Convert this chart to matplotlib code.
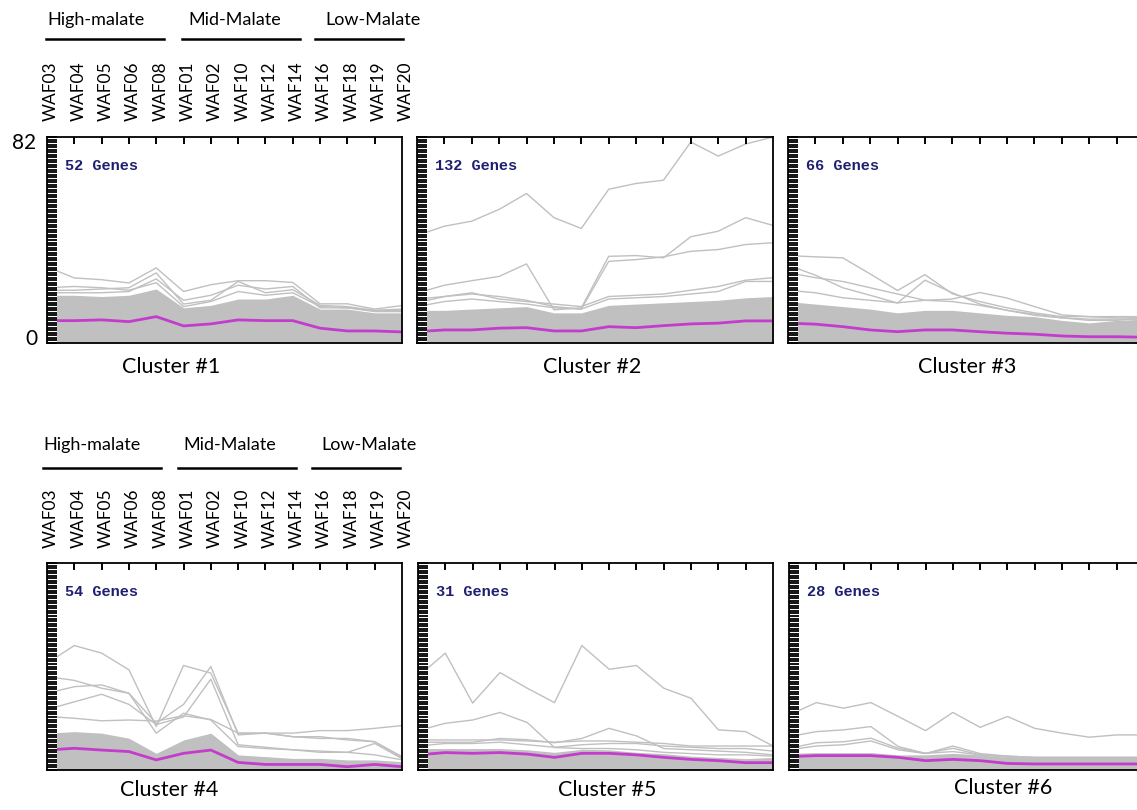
import numpy as np
import matplotlib
matplotlib.use("Agg")
import matplotlib.pyplot as plt
from matplotlib.patches import Rectangle
from matplotlib.lines import Line2D

plt.rcParams['font.family'] = ['Lato', 'DejaVu Sans']

# --- data -------------------------------------------------------------
samples = ["WAF03", "WAF04", "WAF05", "WAF06", "WAF08",
           "WAF01", "WAF02", "WAF10", "WAF12", "WAF14",
           "WAF16", "WAF18", "WAF19", "WAF20"]
groups = ["High-malate", "Mid-Malate", "Low-Malate"]
y_max = 82

gene_counts = [52, 132, 66, 54, 31, 28]
cluster_names = ["Cluster #1", "Cluster #2", "Cluster #3",
                 "Cluster #4", "Cluster #5", "Cluster #6"]

# cluster means (magenta)
mean1 = [8.9, 8.9, 9.2, 8.5, 10.5, 6.8, 7.6, 9.2, 8.9, 8.9, 5.9, 4.8, 4.8, 4.4]
mean2 = [4.5, 5.2, 5.2, 5.9, 6.1, 4.8, 4.8, 6.5, 6.1, 6.9, 7.6, 7.9, 8.8, 8.8]
mean3 = [7.9, 7.5, 6.5, 5.2, 4.5, 5.2, 5.2, 4.5, 3.9, 3.5, 2.8, 2.5, 2.5, 2.3]
mean4 = [7.9, 8.6, 7.9, 7.3, 4.0, 6.6, 7.9, 3.0, 2.2, 2.2, 2.2, 1.3, 2.2, 1.3]
mean5 = [6.0, 6.9, 6.6, 6.9, 6.3, 5.0, 6.6, 6.6, 6.0, 5.0, 4.2, 3.7, 2.9, 2.9]
mean6 = [5.3, 5.7, 5.7, 5.7, 5.0, 3.7, 4.2, 3.7, 2.6, 2.4, 2.4, 2.4, 2.4, 2.4]

# upper edge of the dense block of gene profiles
band1 = [19, 19, 18.5, 19, 21.5, 14, 15, 17.5, 17.5, 19, 13.5, 13.5, 12, 12]
band2 = [13, 13, 13.5, 14, 14.5, 12, 12, 15, 15.5, 16, 16.5, 17, 18, 18.5]
band3 = [16.5, 15.5, 14.5, 13.5, 12, 13, 13, 12, 11, 10.5, 9, 8, 9, 9.5]
band4 = [14.6, 15.2, 14.6, 12.6, 6.6, 11.9, 14.6, 6.0, 5.3, 4.6, 4.6, 4.0, 4.0, 3.3]
band5 = [8.5, 8.5, 8.5, 8.5, 8.0, 7.0, 8.2, 8.0, 7.0, 6.5, 5.5, 5.0, 4.5, 5.0]
band6 = [6.6, 6.9, 6.9, 6.9, 6.0, 6.0, 6.6, 6.0, 5.0, 5.0, 5.0, 5.0, 5.0, 5.0]

# individual gene profiles standing out above the block
c1_a = [30.3, 25.9, 25.2, 23.9, 29.9, 20.5, 23.2, 24.8, 24.8, 24.1, 15.6, 15.6, 13.5, 14.9]
c1_b = [21, 21, 21.5, 22, 27.9, 15.5, 17, 24.5, 20, 21.2, 15, 14.5, 13, 13.5]
c1_c = [20, 20, 20, 20.5, 25.5, 17, 19, 23, 21.5, 22.5, 14, 14, 12.5, 12.5]
c1_d = [22, 22.5, 22, 21, 24, 14.5, 16.5, 20.5, 19, 20, 14.5, 14, 13, 13]

c2_a = [42.8, 46.5, 48.5, 53.2, 59.5, 49.9, 45.6, 61.2, 63.5, 64.8, 80, 74.4, 79.2, 82]
c2_b = [19.9, 23.0, 24.8, 26.5, 31.5, 13.2, 14.0, 34.5, 34.8, 33.9, 42.3, 44.5, 49.9, 46.8]
c2_c = [17.5, 18.5, 19.5, 18.5, 17.0, 14.5, 13.5, 32.5, 33.2, 34.3, 36.5, 37.2, 39.2, 39.9]
c2_d = [16, 18.5, 20, 17.5, 16.5, 15.5, 14.5, 18.5, 19, 19.5, 21, 22.5, 25, 26]
c2_e = [14.5, 16.5, 17.5, 16.5, 15.5, 14, 13.5, 17.5, 18, 18.5, 19.5, 20.5, 24.5, 24.5]

c3_a = [34.8, 34.3, 33.9, 27.5, 20.9, 27.2, 19.6, 16.5, 14.0, 12.0, 10.5, 10.5, 10.0, 10.0]
c3_b = [31.0, 27.0, 22.0, 19.0, 15.9, 25.0, 20.0, 15.5, 13, 11, 10, 9.5, 9.5, 9.5]
c3_c = [28.0, 26.0, 24.5, 22.0, 19.5, 17.0, 17.5, 20.1, 17.9, 14.5, 11.2, 10.5, 10.5, 10.5]
c3_d = [21, 20, 18, 17, 16, 17, 16.5, 15, 13, 11.5, 10, 9, 9, 10]

c4_a = [42.3, 49.3, 46.3, 39.7, 17.2, 41.4, 38.4, 14.6, 14.6, 13.2, 13.2, 11.9, 11.2, 5.3]
c4_b = [37.0, 35.5, 32.4, 30.4, 18.5, 26.0, 41.0, 13.9, 14.6, 14.6, 15.6, 15.6, 16.5, 17.6]
c4_c = [30.4, 33.0, 33.7, 30.4, 14.6, 22.5, 19.8, 9.3, 8.5, 8.0, 7.5, 7.0, 10.5, 4.5]
c4_d = [21.2, 20.5, 19.5, 19.8, 19.4, 21.5, 20.0, 14.6, 14.6, 13.2, 12.5, 12.5, 11.2, 5.0]
c4_e = [24, 27, 30, 26, 18, 21, 36, 10, 9, 8, 7, 7, 6, 4]

c5_a = [37.0, 46.3, 26.5, 38.6, 32.4, 26.7, 49.3, 39.9, 41.4, 32.4, 28.4, 15.9, 15.2, 9.5]
c5_b = [15.6, 18.5, 19.8, 22.8, 18.8, 8.9, 8.5, 8.5, 8.0, 7.0, 6.5, 6.0, 6.0, 5.5]
c5_c = [11.0, 11.0, 11.0, 12.5, 12.0, 10.8, 12.5, 16.5, 13.5, 8.5, 8.0, 7.5, 7.0, 6.0]
c5_d = [11.9, 11.9, 11.9, 11.9, 11.5, 11.0, 11.5, 11.5, 11.0, 10.5, 9.5, 9.5, 9.5, 9.5]
c5_e = [9.5, 10.5, 10.5, 11, 10, 9, 10, 10.5, 10.5, 9.5, 9, 8.5, 8.5, 7.5]

c6_a = [21.8, 26.7, 24.5, 26.7, 21.2, 15.6, 22.8, 16.9, 21.2, 16.5, 14.6, 13.0, 13.9, 13.9]
c6_b = [13.2, 15.2, 15.9, 17.2, 9.3, 6.6, 7.3, 6.0, 5.5, 5.0, 5.0, 5.0, 5.0, 5.0]
c6_c = [8.6, 10.8, 11.2, 12.6, 8.6, 6.6, 8.6, 6.0, 5.0, 4.5, 4.5, 4.5, 4.5, 4.5]
c6_d = [8.0, 9.5, 10.0, 11.5, 8.0, 6.5, 9.5, 6.5, 5.5, 5.0, 5.0, 5.0, 5.0, 5.0]

means = [mean1, mean2, mean3, mean4, mean5, mean6]
bands = [band1, band2, band3, band4, band5, band6]
outliers = [[c1_a, c1_b, c1_c, c1_d],
            [c2_a, c2_b, c2_c, c2_d, c2_e],
            [c3_a, c3_b, c3_c, c3_d],
            [c4_a, c4_b, c4_c, c4_d, c4_e],
            [c5_a, c5_b, c5_c, c5_d, c5_e],
            [c6_a, c6_b, c6_c, c6_d]]

# --- layout (pixel boxes: left, top, right, bottom) -------------------
W, H = 1137, 810
boxes = [(47, 137, 402, 343), (417, 137, 773, 343), (788, 137, 1144, 343),
         (47, 563, 402, 770), (418, 563, 773, 770), (789, 563, 1144, 770)]
title_pos = [(171, 367), (592, 367), (967, 367),
             (169, 790), (607, 790), (1003, 788)]

GRAY = "#c0c0c0"
MAGENTA = "#c43ccc"
NAVY = "#1f1f70"

fig = plt.figure(figsize=(W / 100, H / 100), dpi=100)


def fx(px):
    return px / W


def fy(py):
    return 1 - py / H


x = np.arange(len(samples))
axes = []
for i, (l, t, r, b) in enumerate(boxes):
    ax = fig.add_axes([fx(l), fy(b), (r - l) / W, (b - t) / H])
    axes.append(ax)
    ax.set_axisbelow(False)
    ax.fill_between(x, 0, bands[i], color=GRAY, lw=0, zorder=1)
    for prof in outliers[i]:
        ax.plot(x, prof, color=GRAY, lw=1.0, zorder=1.5)
    ax.plot(x, means[i], color=MAGENTA, lw=2.0, zorder=2)
    # white strip behind the ladder of y ticks
    ax.add_patch(Rectangle((0, 0), 0.028, 1, transform=ax.transAxes,
                           facecolor="white", edgecolor="none", zorder=2.3))
    ax.set_xlim(0, len(samples) - 1)
    ax.set_ylim(0, y_max)
    ax.set_xticks(x[1:-1])
    ax.set_yticks(np.arange(0, y_max + 1, 1))
    ax.tick_params(axis="x", top=True, bottom=False, direction="in",
                   length=5, width=1.4, labeltop=False, labelbottom=False)
    ax.tick_params(axis="y", left=True, direction="in", length=7.5,
                   width=1.3, labelleft=False)
    for sp in ax.spines.values():
        sp.set_linewidth(1.3)
    ax.text(0.05, 0.86, f"{gene_counts[i]} Genes", transform=ax.transAxes,
            family="Liberation Mono", fontweight="bold", fontsize=11,
            color=NAVY, ha="left", va="center", zorder=4)
    cx, cy = title_pos[i]
    fig.text(fx(cx), fy(cy), cluster_names[i], fontsize=15.5,
             ha="center", va="center")

# y range labels on the first panel
fig.text(fx(36), fy(143), str(y_max), fontsize=15, ha="right", va="center")
fig.text(fx(37), fy(339), "0", fontsize=15, ha="right", va="center")

# sample labels and group headers above panels 1 and 4
headers = [
    (axes[0], 1.078, 20, 39, [(47, 46, 164), (188, 182, 300), (325, 315, 403)]),
    (axes[3], 1.072, 445, 468, [(43, 43, 161), (183, 178, 296), (321, 312, 400)]),
]
for ax, ylab, ytxt, yline, spans in headers:
    tr = ax.get_xaxis_transform()
    for k, s in enumerate(samples):
        ax.text(k + 0.15, ylab, s, transform=tr, rotation=90, fontsize=12.5,
                ha="center", va="bottom", clip_on=False)
    for name, (tx, x0, x1) in zip(groups, spans):
        fig.text(fx(tx), fy(ytxt), name, fontsize=13, ha="left", va="center")
        fig.add_artist(Line2D([fx(x0), fx(x1)], [fy(yline), fy(yline)],
                              color="black", lw=1.8))

fig.savefig("out.png", dpi=100)
